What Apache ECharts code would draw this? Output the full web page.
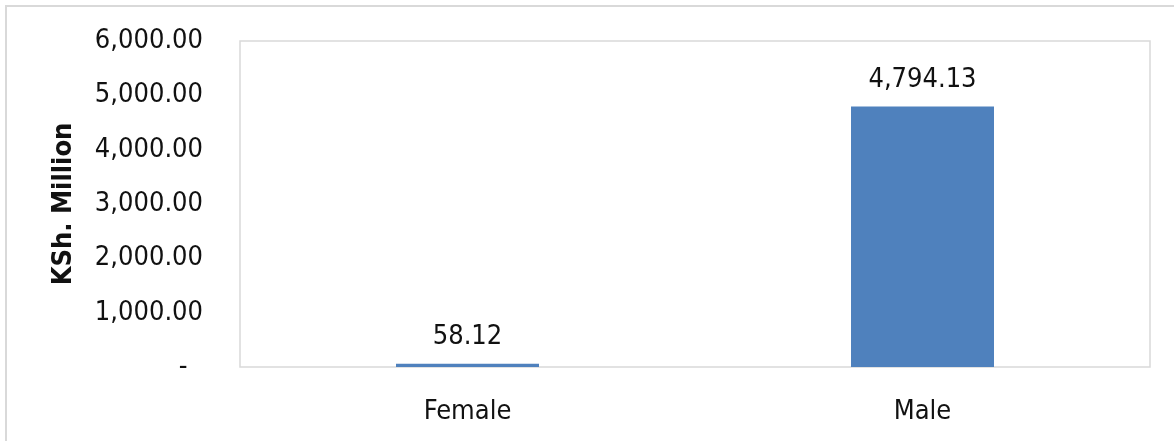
<!DOCTYPE html>
<html>
<head>
<meta charset="utf-8">
<script src="https://cdn.jsdelivr.net/npm/echarts@6/dist/echarts.min.js"></script>
<style>
  html, body { margin: 0; padding: 0; background: #fff; }
  #chart { width: 1174px; height: 441px; }
</style>
</head>
<body>
<div id="chart"></div>
<script>
const categories = ['Female', 'Male']
const values = [58.12, 4794.13]
const yTicks = { min: 0, max: 6000, interval: 1000 }

const font = '"Liberation Sans Narrow", "Arial Narrow", "DejaVu Sans Condensed", sans-serif'

const fmt = (v) => v.toLocaleString('en-US', { minimumFractionDigits: 2, maximumFractionDigits: 2 })

const chart = echarts.init(document.getElementById('chart'))
chart.setOption({
  backgroundColor: '#ffffff',
  animation: false,
  textStyle: { fontFamily: font },
  graphic: [{
    type: 'rect',
    shape: { x: 6, y: 6, width: 1400, height: 600 },
    style: { fill: 'none', stroke: '#d9d9d9', lineWidth: 2 },
    silent: true
  }],
  grid: {
    left: 240,
    top: 41,
    right: 24,
    bottom: 74,
    show: true,
    borderColor: '#d9d9d9',
    borderWidth: 1.5
  },
  xAxis: {
    type: 'category',
    data: categories,
    axisLine: { show: false },
    axisTick: { show: false },
    axisLabel: { color: '#111', fontSize: 27, margin: 31, fontFamily: font }
  },
  yAxis: {
    type: 'value',
    min: yTicks.min,
    max: yTicks.max,
    interval: yTicks.interval,
    name: 'KSh. Million',
    nameLocation: 'middle',
    nameGap: 163,
    nameTextStyle: { color: '#111', fontSize: 27, fontWeight: 'bold', fontFamily: font },
    splitLine: { show: false },
    axisLine: { show: false },
    axisTick: { show: false },
    axisLabel: {
      color: '#111',
      fontSize: 27,
      margin: 37,
      fontFamily: font,
      formatter: (v) => v === 0 ? '-  ' : fmt(v)
    }
  },
  series: [{
    type: 'bar',
    data: values,
    barWidth: 143,
    itemStyle: { color: '#4f81bd' },
    label: {
      show: true,
      position: 'top',
      distance: 13,
      color: '#111',
      fontSize: 27,
      fontFamily: font,
      formatter: (p) => fmt(p.value)
    }
  }]
})
</script>
</body>
</html>
